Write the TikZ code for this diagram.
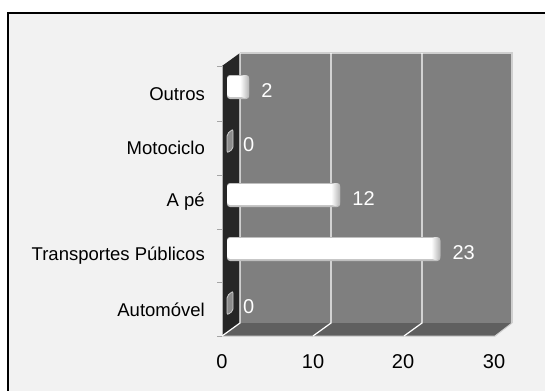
\documentclass[tikz,border=0pt]{standalone}
\usepackage{fontspec}
\setmainfont{Liberation Sans}
\definecolor{bgc}{HTML}{F2F2F2}
\definecolor{wallc}{HTML}{7F7F7F}
\definecolor{floorc}{HTML}{5F5F5F}
\definecolor{sidec}{HTML}{262626}
\definecolor{edgec}{HTML}{CFCFCF}
\definecolor{zeroc}{HTML}{8C8C8C}
\begin{document}
\begin{tikzpicture}[x=1bp,y=-1bp,
  catlbl/.style={anchor=east,inner sep=0pt,font=\fontsize{18.5bp}{22bp}\selectfont,text=black},
  vallbl/.style={anchor=west,inner sep=0pt,font=\fontsize{20bp}{24bp}\selectfont,text=white},
  axlbl/.style={anchor=center,inner sep=0pt,font=\fontsize{20bp}{24bp}\selectfont,text=black},
  gridln/.style={draw=white,line width=1.2bp},
  tickln/.style={draw=gray!70,line width=1bp}]
\useasboundingbox (0,0) rectangle (545,390);
\clip (0,0) rectangle (545,390);
\fill[white] (0,0) rectangle (545,390);
% frame
\draw[line width=2.5bp,fill=bgc] (8,13) rectangle (560,400);
% back wall
\fill[wallc] (240,53) rectangle (512,323);
\draw[edgec,line width=1.5bp] (240,53) -- (512,53) -- (512,323);
% floor
\fill[floorc] (222,336) -- (240,323) -- (512,323) -- (495,336) -- cycle;
\draw[edgec,line width=1bp] (222,336) -- (495,336) -- (512,323);
% left wall
\fill[sidec] (222,66) -- (240,53) -- (240,323) -- (222,336) -- cycle;
\draw[gray!60,line width=1bp] (222,66) -- (222,336);
% gridlines
\draw[gridln] (240,53) -- (240,323) -- (222,336);
\draw[gridln] (331,53) -- (331,323) -- (313,336);
\draw[gridln] (422,53) -- (422,323) -- (404,336);
% ticks
\foreach \t in {66,121,175,229,282,336} \draw[tickln] (217,\t) -- (222,\t);
% category labels
\node[catlbl] (c-out) at (205,94) {Outros};
\node[catlbl] (c-mot) at (205,148) {Motociclo};
\node[catlbl] (c-ape) at (205,202) {A pé};
\node[catlbl] (c-tp) at (205,256) {Transportes Públicos};
\node[catlbl] (c-aut) at (205,310) {Automóvel};
% bars with values
\foreach \n/\c/\v in {out/94/2, ape/202/12, tp/256/23} {
  \pgfmathsetmacro\e{231+9.1*\v}
  \fill[gray!50,rounded corners=3bp] (227,{\c-19}) rectangle (\e,{\c+5});
  \fill[white,rounded corners=3bp] (227,{\c-18}) rectangle ({\e-3},{\c+3});
  \shade[left color=white,right color=gray!60,rounded corners=4bp] ({\e-9},{\c-19}) rectangle (\e,{\c+4});
  \node[vallbl] (v-\n) at ({\e+12},{\c-3}) {\v};
}
% zero bars
\foreach \n/\c in {mot/148, aut/310} {
  \filldraw[fill=zeroc,draw=gray!40,line width=0.8bp,rounded corners=2bp]
    (227,{\c-14}) -- (233,{\c-19}) -- (233,{\c+1}) -- (227,{\c+5}) -- cycle;
  \node[vallbl] (v-\n) at (243,{\c-3}) {0};
}
% axis labels
\node[axlbl] (x0) at (222,362) {0};
\node[axlbl] (x10) at (313,362) {10};
\node[axlbl] (x20) at (403,362) {20};
\node[axlbl] (x30) at (494,362) {30};
\end{tikzpicture}
\end{document}
